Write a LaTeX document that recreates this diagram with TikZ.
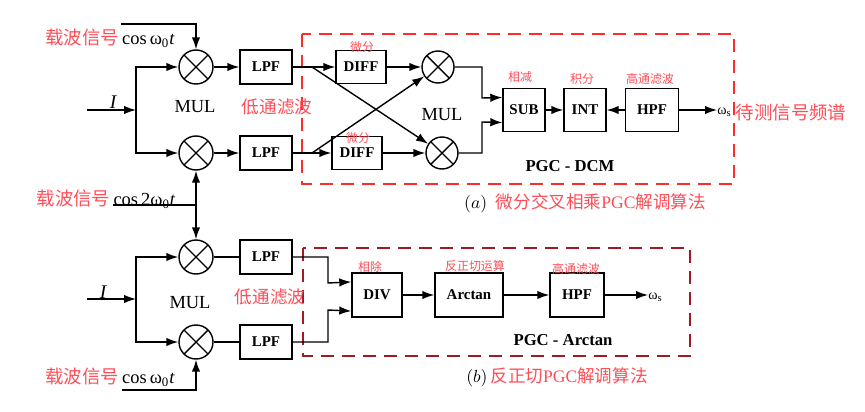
\documentclass[tikz,border=0pt]{standalone}
\usepackage{fontspec}
\setmainfont{Liberation Serif}
\newfontfamily\cjk{Noto Sans CJK SC}
\usetikzlibrary{arrows.meta}
\definecolor{labred}{HTML}{FF4D57}
\definecolor{boxred}{HTML}{FF2A2A}
\definecolor{darkred}{HTML}{9E1B22}
\newcommand{\carrier}[1]{{\cjk\color{labred}载波信号}\,cos\,#1ω\textsubscript{0}\textit{t}}
\begin{document}
\begin{tikzpicture}[x=0.02cm, y=-0.02cm,
	blk/.style={draw, thick, font=\bfseries\fontsize{8.5}{10}\selectfont, minimum height=0.68cm, inner sep=0pt},
	mul/.style={draw, thick, circle, minimum size=0.68cm, inner sep=0pt, path picture={\draw[thick] (path picture bounding box.south west) -- (path picture bounding box.north east) (path picture bounding box.north west) -- (path picture bounding box.south east);}},
	arr/.style={thick, -{Latex[length=2.4mm, width=1.7mm]}},
	lab/.style={text=labred, font=\cjk\fontsize{6.8}{8}\selectfont, inner sep=0pt},
	big/.style={text=labred, font=\cjk\fontsize{10}{12}\selectfont, inner sep=0pt},
	txt/.style={font=\fontsize{10.5}{12}\selectfont, inner sep=0pt}]
	\useasboundingbox (0,0) rectangle (865,412);
	% (a) PGC-DCM
	\draw[boxred, line width=1.1pt, dash pattern=on 0.26cm off 0.16cm] (302,34) rectangle (734,184);
	\node[txt] (carA) at (110,38) {\carrier{}};
	\node[txt, font=\itshape\fontsize{11}{12}\selectfont] (IA) at (113,102) {I};
	\node[mul] (mA1) at (196,67) {};
	\node[mul] (mA2) at (196,153) {};
	\node[txt] (mulA) at (195,107) {MUL};
	\node[blk, minimum width=1.04cm] (lpfA1) at (266,67) {LPF};
	\node[blk, minimum width=1.04cm] (lpfA2) at (266,153) {LPF};
	\node[big] (lowA) at (277,107) {低通滤波};
	\node[blk, minimum width=1.0cm, minimum height=0.66cm] (diffA1) at (361,67) {DIFF};
	\node[blk, minimum width=1.0cm, minimum height=0.66cm] (diffA2) at (357,153) {DIFF};
	\node[lab] (dA1) at (362,47) {微分};
	\node[lab] (dA2) at (358,138) {微分};
	\node[mul, minimum size=0.64cm] (mA3) at (438,67) {};
	\node[mul, minimum size=0.64cm] (mA4) at (442,153) {};
	\node[txt] (mulA2) at (442,115) {MUL};
	\node[blk, minimum width=0.84cm, minimum height=0.85cm] (sub) at (524,110) {SUB};
	\node[blk, minimum width=0.84cm, minimum height=0.86cm] (int) at (585,110) {INT};
	\node[blk, minimum width=1.06cm, minimum height=0.86cm] (hpfA) at (652,110) {HPF};
	\node[lab] (subl) at (520,77) {相减};
	\node[lab] (intl) at (582,79) {积分};
	\node[lab] (hpfAl) at (650,79) {高通滤波};
	\node[txt, font=\fontsize{8}{10}\selectfont, anchor=west] (omA) at (717,112) {ω\textsubscript{s}};
	\node[big, font=\cjk\fontsize{10.5}{12}\selectfont] (spec) at (791,112) {待测信号频谱};
	\node[txt, font=\bfseries\fontsize{9.5}{12}\selectfont] (dcm) at (570,166) {PGC - DCM};
	\node[txt, font=\fontsize{10}{12}\selectfont] (capA) at (585,203) {$(a)$\ \ {\color{labred}{\cjk 微分交叉相乘}PGC{\cjk 解调算法}}};
	\coordinate (inA) at (87,110);
	\coordinate (jA) at (136,110);
	\coordinate (sA1) at (312,67);
	\coordinate (sA2) at (312,153);
	\coordinate (cA2) at (196,205);
	% Arrows
	\draw[arr] (121,24) -| (mA1);
	\draw[arr] (inA) -- (jA);
	\draw[arr] (jA) |- (mA1);
	\draw[arr] (jA) |- (mA2);
	\draw[arr] (cA2) -- (mA2);
	\draw[thick] (113,205) -- (cA2);
	\draw[arr] (mA1) -- (lpfA1);
	\draw[arr] (mA2) -- (lpfA2);
	\draw[arr] (lpfA1) -- (diffA1);
	\draw[arr] (lpfA2) -- (diffA2);
	\draw[arr] (sA1) -- (mA4);
	\draw[arr] (sA2) -- (mA3);
	\draw[arr] (diffA1) -- (mA3);
	\draw[arr] (diffA2) -- (mA4);
	\draw[arr] (mA3) -| (482,98) -- (sub.150);
	\draw[arr] (mA4) -| (482,122) -- (sub.210);
	\draw[arr] (sub) -- (int);
	\draw[arr] (hpfA) -- (int);
	\draw[arr] (hpfA.east) -- (omA.west |- hpfA.east);
	% (b) PGC-Arctan
	\draw[darkred, line width=0.9pt, dash pattern=on 0.26cm off 0.16cm] (303,248) rectangle (690,356);
	\node[txt] (carB) at (106,199) {\carrier{2}};
	\node[txt] (carC) at (110,377) {\carrier{}};
	\node[txt, font=\itshape\fontsize{11}{12}\selectfont] (IB) at (103,292) {I};
	\node[mul] (mB1) at (196,257) {};
	\node[mul] (mB2) at (196,342) {};
	\node[txt] (mulB) at (190,303) {MUL};
	\node[blk, minimum width=1.04cm] (lpfB1) at (266,257) {LPF};
	\node[blk, minimum width=1.04cm] (lpfB2) at (266,342) {LPF};
	\node[big] (lowB) at (270,297) {低通滤波};
	\node[blk, minimum width=1.0cm, minimum height=0.88cm] (div) at (377,295) {DIV};
	\node[blk, minimum width=1.36cm, minimum height=0.88cm] (atan) at (469,295) {Arctan};
	\node[blk, minimum width=1.08cm, minimum height=0.88cm] (hpfB) at (577,295) {HPF};
	\node[lab] (divl) at (370,267) {相除};
	\node[lab] (atanl) at (475,266) {反正切运算};
	\node[lab] (hpfBl) at (576,269) {高通滤波};
	\node[txt, font=\fontsize{8}{10}\selectfont, anchor=west] (omB) at (648,297) {ω\textsubscript{s}};
	\node[txt, font=\bfseries\fontsize{9.5}{12}\selectfont] (arct) at (563,340) {PGC - Arctan};
	\node[txt, font=\fontsize{10}{12}\selectfont] (capB) at (557,377) {$(b)$\,{\color{labred}{\cjk 反正切}PGC{\cjk 解调算法}}};
	\coordinate (inB) at (87,299);
	\coordinate (jB) at (136,299);
	% Arrows
	\draw[arr] (cA2) -- (mB1);
	\draw[arr] (inB) -- (jB);
	\draw[arr] (jB) |- (mB1);
	\draw[arr] (jB) |- (mB2);
	\draw[arr] (122,390) -| (mB2);
	\draw[thick] (mB1) -- (lpfB1);
	\draw[thick] (mB2) -- (lpfB2);
	\draw[arr] (lpfB1) -| (328,283) -- (div.153);
	\draw[arr] (lpfB2) -| (328,310) -- (div.212);
	\draw[arr] (div) -- (atan);
	\draw[arr] (atan) -- (hpfB);
	\draw[arr] (hpfB.east) -- (omB.west |- hpfB.east);
\end{tikzpicture}
\end{document}
